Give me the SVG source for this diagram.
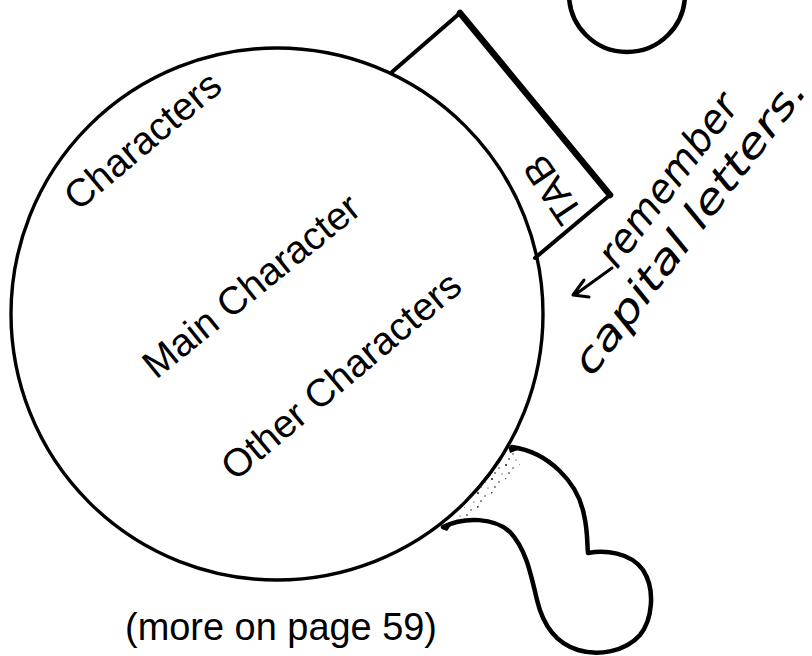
<svg xmlns="http://www.w3.org/2000/svg" width="812" height="656" viewBox="0 0 812 656">
  <style>
    .ink { fill: none; stroke: #000; stroke-linejoin: round; stroke-linecap: round; }
    .lbl { font-family: "Liberation Sans", Arial, sans-serif; font-size: 39px; fill: #000; }
    .hand { font-family: "DejaVu Sans", sans-serif; font-style: oblique; font-size: 40px; fill: #000; }
  </style>
  <defs>
    <pattern id="stip" width="14" height="14" patternUnits="userSpaceOnUse">
      <circle cx="2" cy="3" r="0.9" fill="#000"/>
      <circle cx="9" cy="6" r="0.7" fill="#000"/>
      <circle cx="5" cy="11" r="0.8" fill="#000"/>
      <circle cx="12" cy="12" r="0.6" fill="#000"/>
    </pattern>
  </defs>
  <rect width="812" height="656" fill="#fff"/>

  <g id="top-blob">
    <circle cx="627" cy="-6" r="58" class="ink" stroke-width="4.5" fill="#fff"/>
  </g>

  <g id="tab">
    <path d="M392,72 L460,13 L610,195 L535,258" fill="#fff" stroke="none"/>
    <path d="M392,72 L460,13" class="ink" stroke-width="4"/>
    <path d="M460,13 L610,195" class="ink" stroke-width="6.5"/>
    <path d="M610,195 L535,258" class="ink" stroke-width="4"/>
    <text class="lbl" font-size="24" transform="translate(557,187) rotate(-124)" text-anchor="middle" dy="8">TAB</text>
  </g>

  <g id="bottom-blob">
    <path d="M512,447 C548,452 578,482 584,515 C588,532 587,545 588,553 C605,550 630,552 643,570 C656,590 652,620 640,635 C625,652 598,656 578,650 C555,643 543,625 537,600 C530,570 525,548 510,532 C495,518 465,516 443,527" fill="#fff" class="ink" stroke-width="4.5"/>
    <path d="M449,526 L512,450 L522,462 L468,518 Z" fill="url(#stip)" stroke="none"/>
    <path d="M508,446 L518,450 L510,453 Z M442,529 L452,524 L447,531 Z" fill="#000"/>
  </g>

  <g id="characters-circle">
    <circle cx="277" cy="314" r="266" class="ink" stroke-width="3.4" fill="none"/>
    <text class="lbl" transform="translate(78,212) rotate(-40)">Characters</text>
    <text class="lbl" transform="translate(156,380) rotate(-39)">Main Character</text>
    <text class="lbl" transform="translate(235,482) rotate(-40)">Other Characters</text>
  </g>

  <g id="connectors">
    <path d="M612,268 L576,294 M584,280 L573,295 L589,297" class="ink" stroke-width="3"/>
  </g>

  <g id="note">
    <text class="hand" transform="translate(617,270) rotate(-53)" textLength="205" lengthAdjust="spacingAndGlyphs">remember</text>
    <text class="hand" transform="translate(592,378) rotate(-53)" textLength="360" lengthAdjust="spacingAndGlyphs">capital letters.</text>
  </g>

  <g id="footnote">
    <text class="lbl" x="125" y="640" font-size="38" textLength="312" lengthAdjust="spacingAndGlyphs">(more on page 59)</text>
  </g>
</svg>
